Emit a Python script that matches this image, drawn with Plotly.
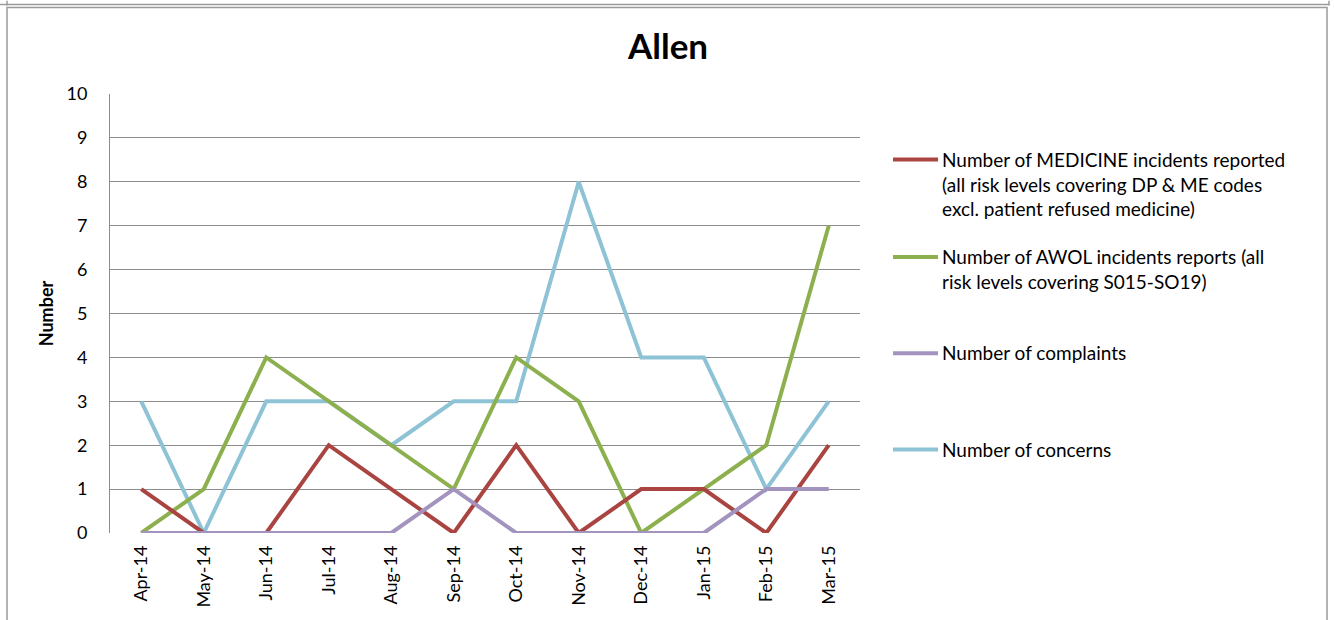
import plotly.graph_objects as go

# Monthly counts for the Allen ward
months = ["Apr-14", "May-14", "Jun-14", "Jul-14", "Aug-14", "Sep-14",
          "Oct-14", "Nov-14", "Dec-14", "Jan-15", "Feb-15", "Mar-15"]
medicine = [1, 0, 0, 2, 1, 0, 2, 0, 1, 1, 0, 2]
awol = [0, 1, 4, 3, 2, 1, 4, 3, 0, 1, 2, 7]
complaints = [0, 0, 0, 0, 0, 1, 0, 0, 0, 0, 1, 1]
concerns = [3, 0, 3, 3, 2, 3, 3, 8, 4, 4, 1, 3]

series_names = [
    "Number of MEDICINE incidents reported<br>(all risk levels covering DP & ME codes<br>excl. patient refused medicine)",
    "Number of AWOL incidents reports (all<br>risk levels covering S015-SO19)",
    "Number of complaints",
    "Number of concerns",
]
series_values = [medicine, awol, complaints, concerns]
series_colors = ["#A94440", "#8DB04E", "#A393BF", "#8EC3D6"]

W, H = 1334, 620
L, R, T, B = 110, 860, 94, 536   # plot area in pixels
FONT = "Lato"


def px(x):
    return (x - L) / (R - L)


def py(y):
    return (B - y) / (B - T)


fig = go.Figure()
# concerns drawn first so the others sit on top of it
order = [3, 1, 0, 2]
for i in order:
    fig.add_trace(go.Scatter(
        x=months, y=series_values[i], mode="lines",
        line=dict(color=series_colors[i], width=4),
        name=series_names[i], showlegend=False,
    ))

shapes = []
annotations = []

# legend drawn as line swatches + text on the right
legend_tops = [160, 258, 355, 452]
for i, ytop in enumerate(legend_tops):
    shapes.append(dict(type="line", xref="paper", yref="paper",
                       x0=px(893), x1=px(938), y0=py(ytop), y1=py(ytop),
                       line=dict(color=series_colors[i], width=4)))
    annotations.append(dict(xref="paper", yref="paper", x=px(940), y=py(ytop - 14),
                            xanchor="left", yanchor="top", align="left",
                            text=series_names[i], showarrow=False,
                            font=dict(family=FONT, size=19, color="#000000")))

# outer frame of the chart object
frame = "#9A9A9A"
shapes.append(dict(type="line", xref="paper", yref="paper",
                   x0=px(0), x1=px(1329), y0=py(4), y1=py(4),
                   line=dict(color=frame, width=1.5)))
shapes.append(dict(type="rect", xref="paper", yref="paper",
                   x0=px(7), x1=px(1327), y0=py(7), y1=py(640),
                   line=dict(color=frame, width=1.5)))
shapes.append(dict(type="line", xref="paper", yref="paper",
                   x0=px(7), x1=px(7), y0=py(0), y1=py(5),
                   line=dict(color=frame, width=1.5)))
shapes.append(dict(type="line", xref="paper", yref="paper",
                   x0=px(1329), x1=px(1329), y0=py(0), y1=py(5),
                   line=dict(color=frame, width=1.5)))

annotations.append(dict(xref="paper", yref="paper", x=px(667), y=py(45),
                        xanchor="center", yanchor="middle", text="<b>Allen</b>",
                        showarrow=False, font=dict(family=FONT, size=35, color="#000000")))

fig.update_layout(
    width=W, height=H,
    margin=dict(l=L, r=W - R, t=T, b=H - B),
    paper_bgcolor="white", plot_bgcolor="white",
    font=dict(family=FONT, size=18, color="#000000"),
    shapes=shapes, annotations=annotations,
    xaxis=dict(type="category", range=[-0.5, 11.5], tickangle=-90, showgrid=False,
               zeroline=False, showline=False, ticks="", ticklabelstandoff=8,
               tickfont=dict(family=FONT, size=18)),
    yaxis=dict(range=[0, 10], dtick=1, showgrid=True, gridcolor="#8C8C8C", gridwidth=1,
               zeroline=False, showline=True, linecolor="#8C8C8C", linewidth=1,
               ticks="", ticklabelstandoff=18, tickfont=dict(family=FONT, size=18),
               title=dict(text="<b>Number</b>", font=dict(family=FONT, size=18), standoff=8)),
)

fig.write_html("out.html")
